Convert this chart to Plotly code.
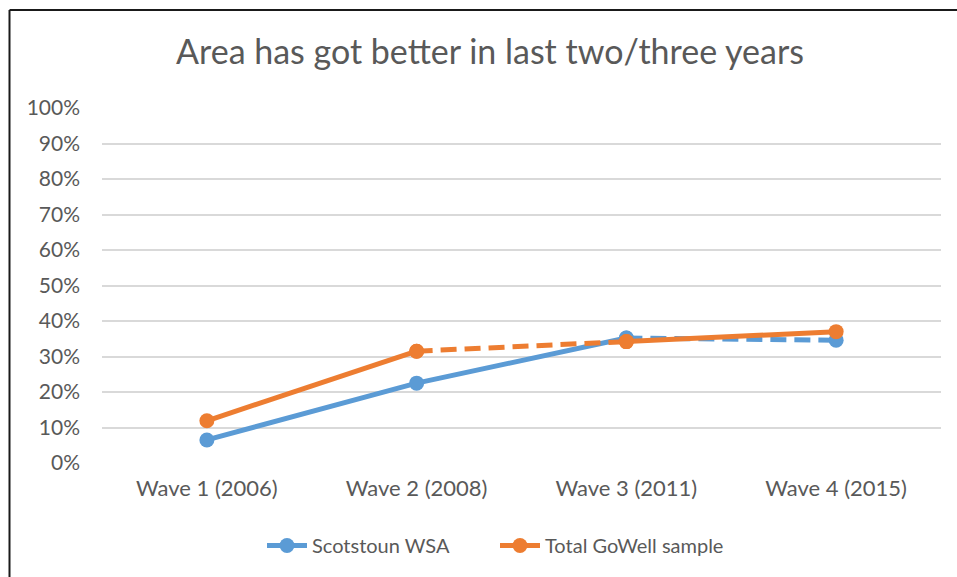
import plotly.graph_objects as go

categories = ["Wave 1 (2006)", "Wave 2 (2008)", "Wave 3 (2011)", "Wave 4 (2015)"]
scotstoun = [0.065, 0.225, 0.352, 0.346]
total_gowell = [0.119, 0.315, 0.342, 0.370]
y_ticks = [i / 10 for i in range(11)]
y_tick_labels = [f"{i * 10}%" for i in range(11)]

BLUE = "#5B9BD5"
ORANGE = "#ED7D31"
GREY = "#595959"
FONT = "Lato"

W, H = 957, 577
L, R, T, B = 102, 941, 108, 465
pw, ph = R - L, B - T


def px_x(px):
    return (px - L) / pw


def px_y(py):
    return (B - py) / ph


fig = go.Figure()


def seg(name, vals, color, i0, i1, dash, show):
    fig.add_trace(go.Scatter(
        x=categories[i0:i1 + 1], y=vals[i0:i1 + 1], name=name,
        mode="lines+markers", legendgroup=name, showlegend=show,
        line=dict(color=color, width=5, dash=dash),
        marker=dict(color=color, size=15),
        hoverinfo="skip",
    ))


seg("Scotstoun WSA", scotstoun, BLUE, 0, 2, "solid", True)
seg("Scotstoun WSA", scotstoun, BLUE, 2, 3, "16px,8px", False)
seg("Total GoWell sample", total_gowell, ORANGE, 0, 1, "solid", True)
seg("Total GoWell sample", total_gowell, ORANGE, 1, 2, "16px,8px", False)
seg("Total GoWell sample", total_gowell, ORANGE, 2, 3, "solid", False)

fig.update_layout(
    width=W, height=H,
    margin=dict(l=L, r=W - R, t=T, b=H - B, pad=0),
    paper_bgcolor="white", plot_bgcolor="white",
    font=dict(family=FONT, color=GREY, size=21),
    title=dict(text="Area has got better in last two/three years",
               x=490 / W, xanchor="center", xref="container",
               y=1 - 52 / H, yanchor="middle", yref="container",
               font=dict(size=34, color=GREY, family=FONT)),
    xaxis=dict(type="category", range=[-0.5, 3.5], showgrid=False,
               showline=False, zeroline=False, ticks="",
               tickfont=dict(size=22, color=GREY), ticklabelstandoff=10),
    yaxis=dict(range=[0, 1], tickvals=y_ticks, ticktext=y_tick_labels,
               showgrid=True, gridcolor="#D9D9D9", gridwidth=1.5,
               zeroline=False, showline=False, ticks="",
               tickfont=dict(size=21, color=GREY), ticklabelstandoff=21),
    legend=dict(orientation="h", x=px_x(262), xanchor="left",
                y=px_y(548), yanchor="middle",
                font=dict(size=20, color=GREY), itemwidth=40,
                entrywidth=178, entrywidthmode="pixels",
                traceorder="normal"),
    showlegend=True,
    shapes=[
        dict(type="line", xref="paper", yref="paper",
             x0=px_x(9.5), x1=px_x(960), y0=px_y(9.5), y1=px_y(9.5),
             line=dict(color="#1A1A1A", width=2)),
        dict(type="line", xref="paper", yref="paper",
             x0=px_x(9.5), x1=px_x(9.5), y0=px_y(9.5), y1=px_y(580),
             line=dict(color="#1A1A1A", width=2)),
    ],
)

fig.write_html("out.html", config={"displayModeBar": False},
               post_script="document.body.style.margin='0';")
